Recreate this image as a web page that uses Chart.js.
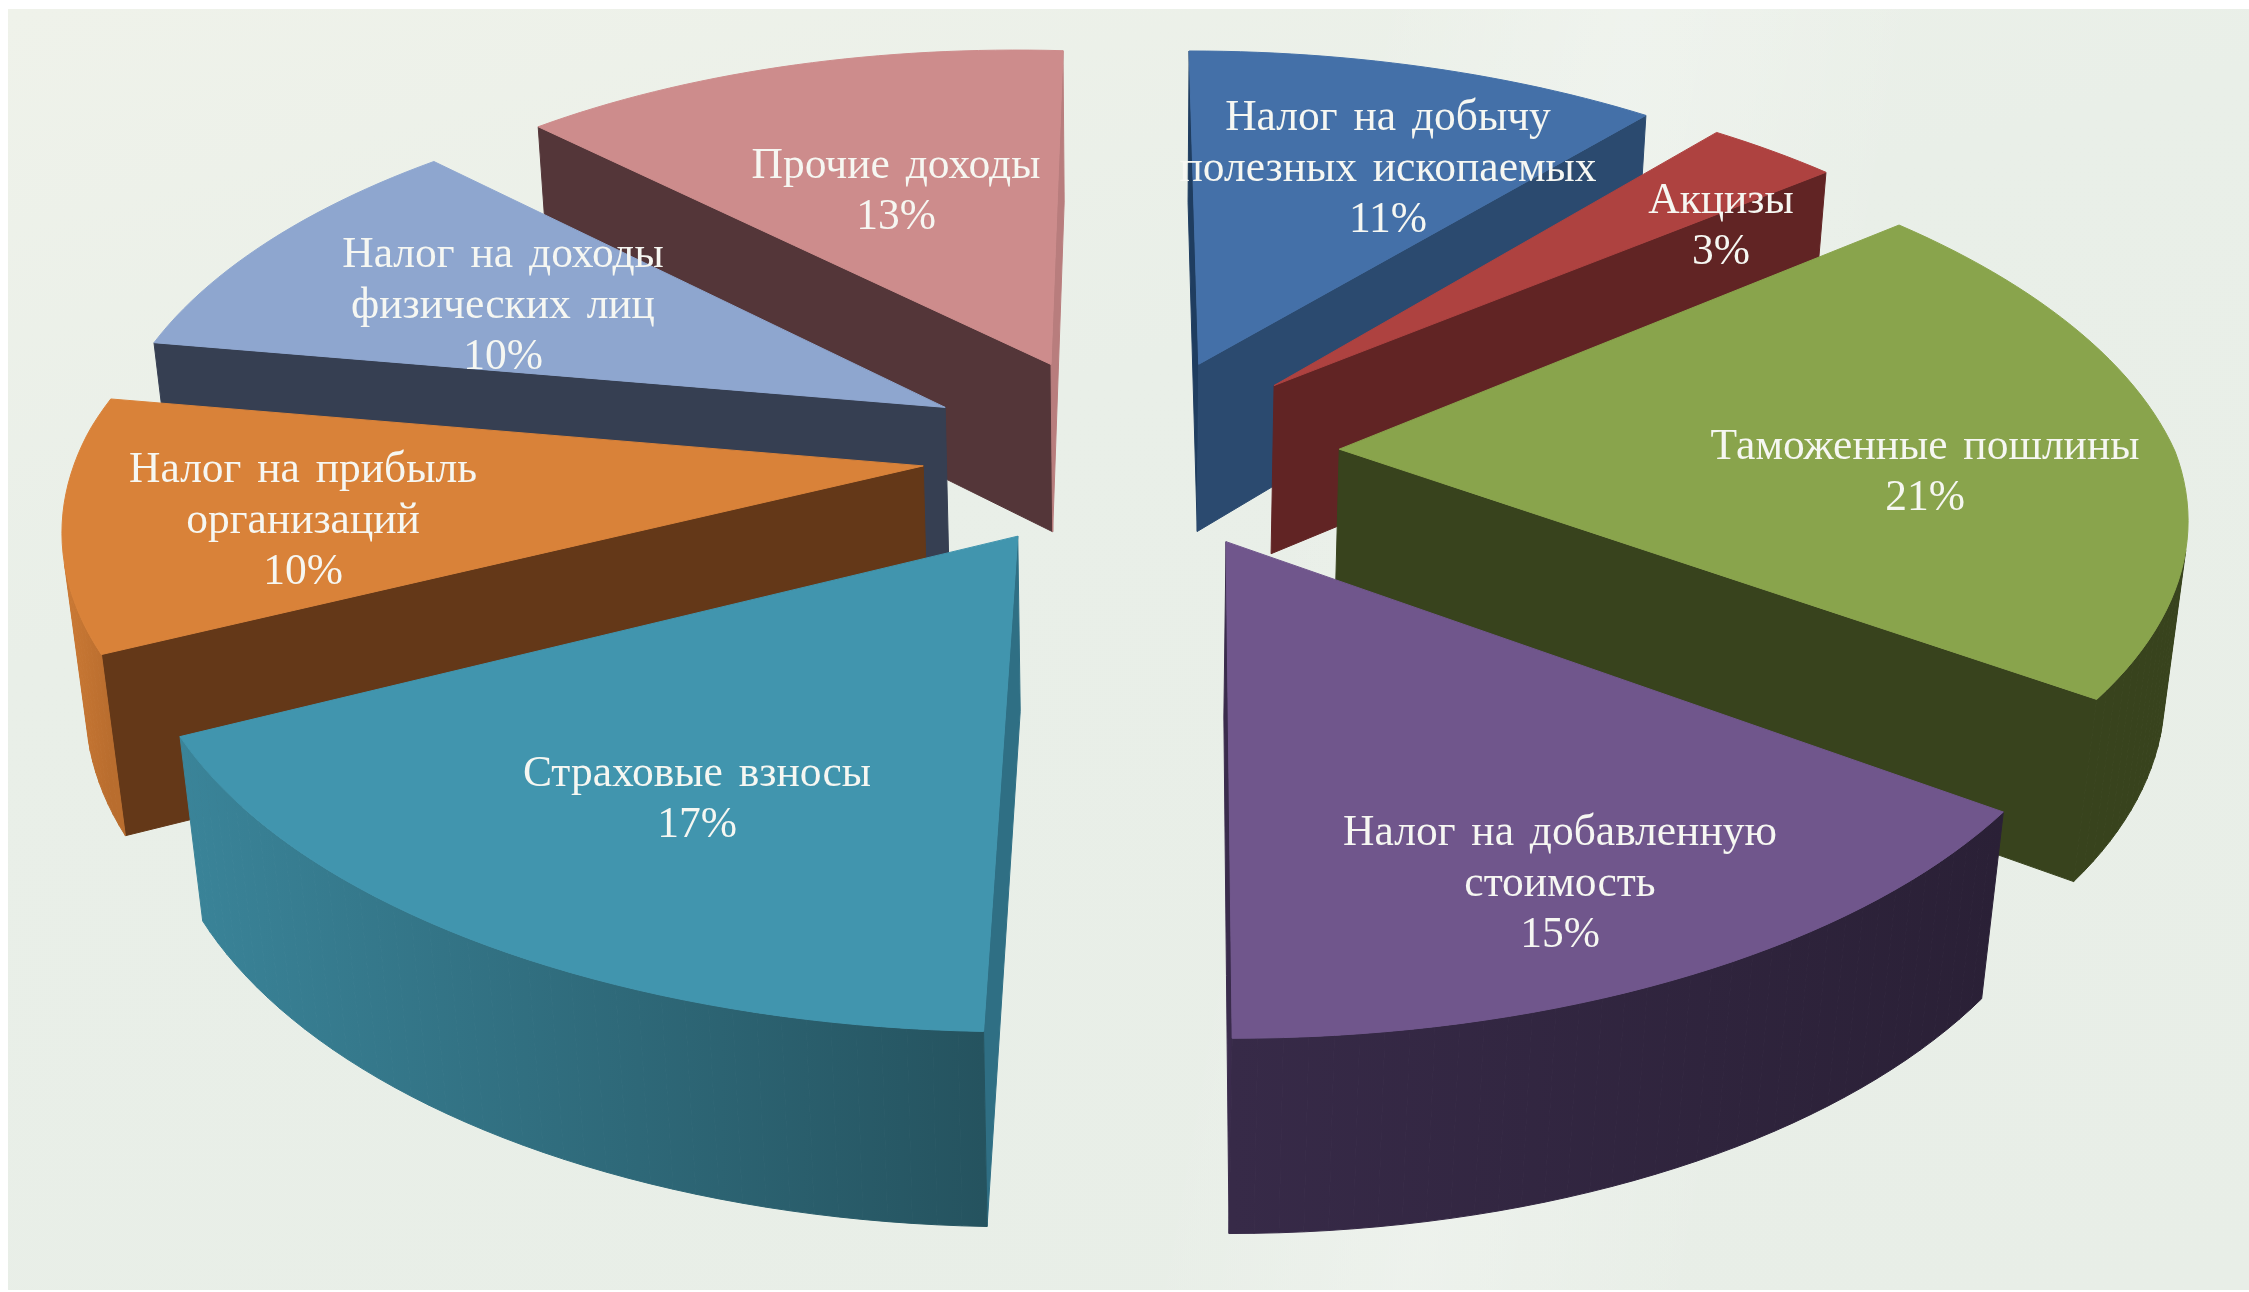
<!DOCTYPE html>
<html lang="ru">
<head>
<meta charset="utf-8">
<title>Доходы бюджета</title>
<script src="https://cdn.jsdelivr.net/npm/chart.js@4"></script>
<style>
  html, body { margin: 0; padding: 0; background: #fff; overflow: hidden; }
  .panel {
    position: absolute; left: 8px; top: 9px; right: 0; bottom: 2px;
    background:
      linear-gradient(100deg, rgba(255,255,255,0) 55%, rgba(255,255,255,0.22) 66%, rgba(255,255,255,0) 78%),
      linear-gradient(165deg, #eff2ea 0%, #e9efe8 35%, #e8eee7 100%);
  }
  #chart { position: absolute; left: 0; top: 0; }
</style>
</head>
<body>
<div class="panel"></div>
<canvas id="chart" width="2249" height="1292"></canvas>
<script>
const sliceLabels = [
  ['Налог на добычу', 'полезных ископаемых'],
  ['Акцизы'],
  ['Таможенные пошлины'],
  ['Налог на добавленную', 'стоимость'],
  ['Страховые взносы'],
  ['Налог на прибыль', 'организаций'],
  ['Налог на доходы', 'физических лиц'],
  ['Прочие доходы']
];
const sliceValues = [11, 3, 21, 15, 17, 10, 10, 13];

const topColors = ['#4470a8', '#ae4240', '#89a44c', '#70568c', '#4195ae', '#d98239', '#8ea6cf', '#cd8c8c'];
const startCutColors = ['#1f3d60', '#612424', '#38431d', '#5d4775', '#2f6f84', '#643818', '#363f52', '#543639'];
const endCutColors = ['#2b4a6f', '#612424', '#38431d', '#3a2b4c', '#3b87a0', '#b06a2e', '#4a5a78', '#b87d7d'];
const wallLeftColors = ['#2b4a6f', '#612424', '#38431d', '#372a48', '#3a8499', '#cc7a35', '#363f52', '#543639'];
const wallRightColors = ['#2b4a6f', '#612424', '#38431d', '#2a2036', '#25535f', '#b96d2e', '#363f52', '#543639'];

// label anchors: centre of the first text line, in page pixels
const labelSpots = [[1388, 119], [1721, 202], [1925, 448], [1560, 834], [697, 775], [303, 471], [503, 256], [896, 167]];
const labelFont = '43.5px "Liberation Serif", serif';
const labelLineHeight = 51;

// projection of the flat pie, all lengths in pie radii
const explode = 0.25;
const stretchX = 1.294;
const tiltY = 0.6;
const depth = 0.271;
const perspective = 0.1565;
const sink = 0.022;
const shiftX = 0.0095;
const shiftY = -0.3;
// the source picture is not a clean perspective, these bend it a little
const backNarrow = 0.028;
const frontShear = 0.02;
const leftLift = 0.029;

function project(arc, u, v, z) {
  const w = 1 - perspective * v + sink * z;
  const narrow = u < 0 ? backNarrow : backNarrow / 2;
  const wx = w - narrow * Math.min(v, 0);
  const x = shiftX + stretchX * u / wx - frontShear * Math.max(v, 0);
  const y = shiftY + (tiltY * v + depth * z) / w - leftLift * Math.max(-u, 0);
  return { x: arc.x + arc.outerRadius * x, y: arc.y + arc.outerRadius * y };
}

function shoelace(points) {
  let area = 0;
  points.forEach((p, i) => {
    const q = points[(i + 1) % points.length];
    area += p.x * q.y - q.x * p.y;
  });
  return area;
}

function fillPolygon(ctx, points, color) {
  ctx.beginPath();
  points.forEach((p, i) => (i ? ctx.lineTo(p.x, p.y) : ctx.moveTo(p.x, p.y)));
  ctx.closePath();
  ctx.fillStyle = color;
  ctx.strokeStyle = color;
  ctx.lineWidth = 1;
  ctx.fill();
  ctx.stroke();
}

// wall under the edge a -> b of the top face, only when it faces the viewer
function drawWall(ctx, arc, a, b, color) {
  const quad = [
    project(arc, a.u, a.v, 0),
    project(arc, b.u, b.v, 0),
    project(arc, b.u, b.v, 1),
    project(arc, a.u, a.v, 1)
  ];
  if (shoelace(quad) < 0) fillPolygon(ctx, quad, color);
}

function drawSlice(ctx, arc, index) {
  const mid = (arc.startAngle + arc.endAngle) / 2;
  const ox = explode * Math.cos(mid);
  const oy = explode * Math.sin(mid);
  const steps = Math.max(8, Math.ceil((arc.endAngle - arc.startAngle) * 40));
  const rim = [];
  for (let i = 0; i <= steps; i++) {
    const angle = arc.startAngle + (arc.endAngle - arc.startAngle) * i / steps;
    rim.push({ u: ox + Math.cos(angle), v: oy + Math.sin(angle) });
  }
  const apex = { u: ox, v: oy };
  const topRim = rim.map(p => project(arc, p.u, p.v, 0));
  const xs = topRim.map(p => p.x);
  const gradient = ctx.createLinearGradient(Math.min(...xs), 0, Math.max(...xs), 0);
  gradient.addColorStop(0, wallLeftColors[index]);
  gradient.addColorStop(1, wallRightColors[index]);

  drawWall(ctx, arc, apex, rim[0], startCutColors[index]);
  drawWall(ctx, arc, rim[rim.length - 1], apex, endCutColors[index]);
  for (let i = 0; i < steps; i++) {
    drawWall(ctx, arc, rim[i], rim[i + 1], gradient);
  }
  fillPolygon(ctx, [project(arc, apex.u, apex.v, 0), ...topRim], topColors[index]);
}

const pie3d = {
  id: 'pie3d',
  beforeDatasetDraw(chart, args) {
    const ctx = chart.ctx;
    const arcs = chart.getDatasetMeta(args.index).data.map((element, index) => ({
      index,
      arc: element.getProps(['x', 'y', 'startAngle', 'endAngle', 'outerRadius'], true)
    }));
    // back slices first, the front ones cover them
    arcs.sort((a, b) => Math.sin((a.arc.startAngle + a.arc.endAngle) / 2) - Math.sin((b.arc.startAngle + b.arc.endAngle) / 2));
    ctx.save();
    ctx.lineJoin = 'round';
    arcs.forEach(item => drawSlice(ctx, item.arc, item.index));
    ctx.restore();
    return false;
  },
  afterDatasetsDraw(chart) {
    const ctx = chart.ctx;
    ctx.save();
    ctx.font = labelFont;
    ctx.wordSpacing = '5px';
    ctx.fillStyle = '#f6f7f2';
    ctx.textAlign = 'center';
    ctx.textBaseline = 'middle';
    chart.data.labels.forEach((lines, i) => {
      const [x, y] = labelSpots[i];
      [...lines, chart.data.datasets[0].data[i] + '%'].forEach((line, k) => {
        ctx.fillText(line, x, y + k * labelLineHeight);
      });
    });
    ctx.restore();
  }
};

new Chart(document.getElementById('chart'), {
  type: 'pie',
  data: {
    labels: sliceLabels,
    datasets: [{ data: sliceValues, backgroundColor: topColors, borderWidth: 0 }]
  },
  options: {
    responsive: false,
    devicePixelRatio: 1,
    animation: false,
    events: [],
    plugins: { legend: { display: false }, tooltip: { enabled: false } }
  },
  plugins: [pie3d]
});
</script>
</body>
</html>
